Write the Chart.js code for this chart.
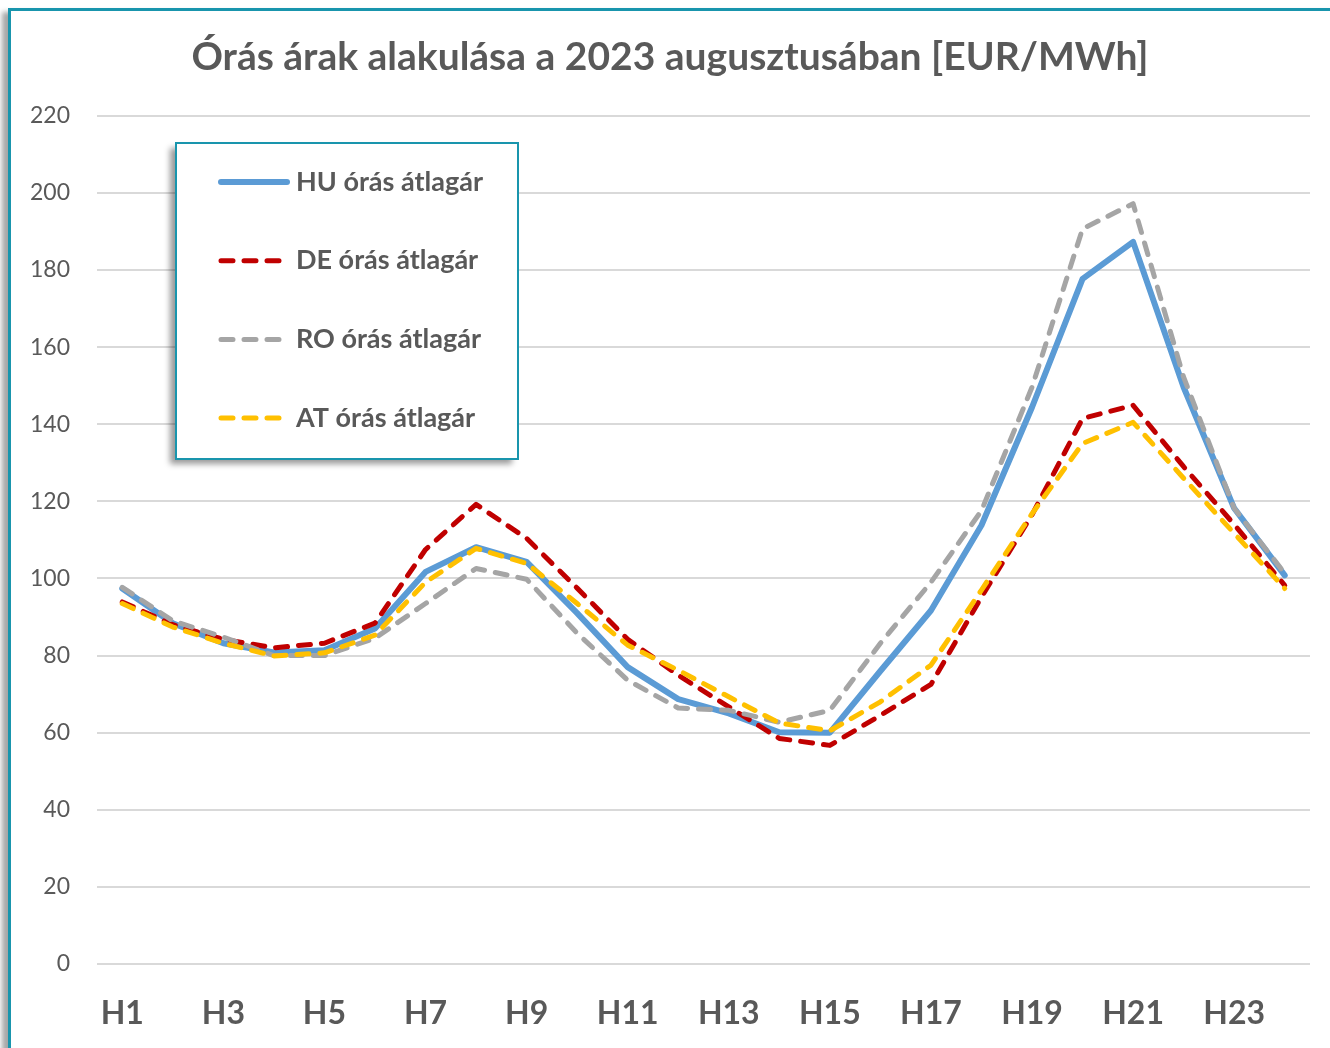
<!DOCTYPE html>
<html lang="hu">
<head>
    <meta charset="UTF-8">
    <title>Órás árak 2023 augusztus</title>
    <script src="https://cdn.jsdelivr.net/npm/chart.js"></script>
    <style>
        html, body { margin: 0; padding: 0; background: #fff; overflow: hidden; }
        .frame {
            position: absolute; left: 8px; top: 8px; width: 1400px; height: 1100px;
            border-top: 3px solid #1995ad; border-left: 3px solid #1995ad;
            box-shadow: -6px 4px 5px rgba(0,0,0,0.35);
            background: #fff;
        }
        .chart-box { position: absolute; left: 0; top: 0; width: 1330px; height: 1048px; }
    </style>
</head>
<body>
    <div class="frame"></div>
    <div class="chart-box">
        <canvas id="arakChart"></canvas>
    </div>

<script>
    // órák (kategóriák)
    const hours = ['H1','H2','H3','H4','H5','H6','H7','H8','H9','H10','H11','H12',
                   'H13','H14','H15','H16','H17','H18','H19','H20','H21','H22','H23','H24'];

    // átlagárak EUR/MWh
    const huPrices = [97.4, 88.4, 83.2, 80.8, 81.4, 87, 101.7, 108.1, 104.3, 91, 77, 68.7,
                      65, 60.1, 60, 76, 91.7, 113.8, 144.4, 177.7, 187.3, 149.6, 118.2, 100.8];
    const dePrices = [93.9, 88, 84.2, 82, 83.2, 88.4, 107.5, 119.2, 110.4, 97.5, 84.2, 74.9,
                      66.7, 58.5, 56.7, 64.5, 72.5, 95.2, 116.5, 141.5, 144.9, 129, 114, 98.2];
    const roPrices = [97.7, 89, 84.8, 80, 80, 84.5, 93.5, 102.6, 99.8, 85.8, 73.6, 66.4,
                      65.8, 62.7, 65.8, 83.2, 99, 117.6, 149.6, 190.7, 197.2, 152.2, 118.2, 101.3];
    const atPrices = [93.5, 87.4, 83.2, 79.9, 80.7, 85.3, 99, 107.8, 103.9, 93.5, 82.7, 76.2,
                      69.3, 62.5, 60.5, 68, 77.5, 97, 116.8, 135, 140.5, 126, 111.7, 97.4];

    const yTicks = { min: 0, max: 220, step: 20 };

    const textColor = '#595959';
    const teal = '#1995ad';

    // saját jelmagyarázat doboz (a diagramon belül)
    const boxLegend = {
        id: 'boxLegend',
        afterDraw(chart) {
            const ctx = chart.ctx;
            const x = 176, y = 143, w = 342, h = 316;
            ctx.save();
            ctx.shadowColor = 'rgba(0,0,0,0.4)';
            ctx.shadowOffsetX = -6;
            ctx.shadowOffsetY = 5;
            ctx.shadowBlur = 6;
            ctx.fillStyle = '#fff';
            ctx.fillRect(x, y, w, h);
            ctx.restore();

            ctx.save();
            ctx.strokeStyle = teal;
            ctx.lineWidth = 2;
            ctx.strokeRect(x, y, w, h);

            chart.data.datasets.forEach((ds, i) => {
                const ly = 182 + i * 78.7;
                ctx.beginPath();
                ctx.strokeStyle = ds.borderColor;
                ctx.lineWidth = ds.borderWidth;
                ctx.lineCap = 'round';
                ctx.setLineDash(ds.borderDash || []);
                ctx.moveTo(221, ly);
                ctx.lineTo(ds.borderDash ? 284 : 287, ly);
                ctx.stroke();
                ctx.setLineDash([]);

                ctx.fillStyle = textColor;
                ctx.font = 'bold 27px Lato';
                ctx.textBaseline = 'middle';
                ctx.textAlign = 'left';
                ctx.fillText(ds.label, 296, ly);
            });
            ctx.restore();
        }
    };

    const ctx = document.getElementById('arakChart').getContext('2d');
    new Chart(ctx, {
        type: 'line',
        data: {
            labels: hours,
            datasets: [
                { label: 'HU órás átlagár', data: huPrices, borderColor: '#5b9bd5', borderWidth: 6, order: 4 },
                { label: 'DE órás átlagár', data: dePrices, borderColor: '#c00000', borderWidth: 5, borderDash: [12, 11], order: 3 },
                { label: 'RO órás átlagár', data: roPrices, borderColor: '#a5a5a5', borderWidth: 5, borderDash: [12, 11], order: 2 },
                { label: 'AT órás átlagár', data: atPrices, borderColor: '#ffc000', borderWidth: 5, borderDash: [12, 11], order: 1 }
            ]
        },
        options: {
            responsive: true,
            maintainAspectRatio: false,
            animation: false,
            elements: {
                point: { radius: 0 },
                line: { tension: 0, borderCapStyle: 'round', borderJoinStyle: 'round' }
            },
            layout: { padding: { left: 30, right: 20, top: 0, bottom: 0 } },
            plugins: {
                legend: { display: false },
                tooltip: { enabled: false },
                title: {
                    display: true,
                    text: 'Órás árak alakulása a 2023 augusztusában [EUR/MWh]',
                    color: textColor,
                    font: { family: 'Lato', size: 39, weight: 'bold' },
                    padding: { top: 34, bottom: 35 }
                }
            },
            scales: {
                x: {
                    offset: true,
                    grid: { display: false },
                    border: { display: false },
                    afterFit: (scale) => { scale.height = 84; },
                    ticks: {
                        autoSkip: false,
                        maxRotation: 0,
                        padding: 22,
                        color: textColor,
                        font: { family: 'Lato', size: 32, weight: 'bold' },
                        callback: function (val, i) { return i % 2 === 0 ? this.getLabelForValue(val) : ''; }
                    }
                },
                y: {
                    min: yTicks.min,
                    max: yTicks.max,
                    grid: { color: '#d9d9d9', lineWidth: 2, drawTicks: false },
                    border: { display: false },
                    afterFit: (scale) => { scale.width = 67; },
                    ticks: {
                        stepSize: yTicks.step,
                        padding: 27,
                        color: textColor,
                        font: { family: 'Lato', size: 23 }
                    }
                }
            }
        },
        plugins: [boxLegend]
    });
</script>
</body>
</html>
